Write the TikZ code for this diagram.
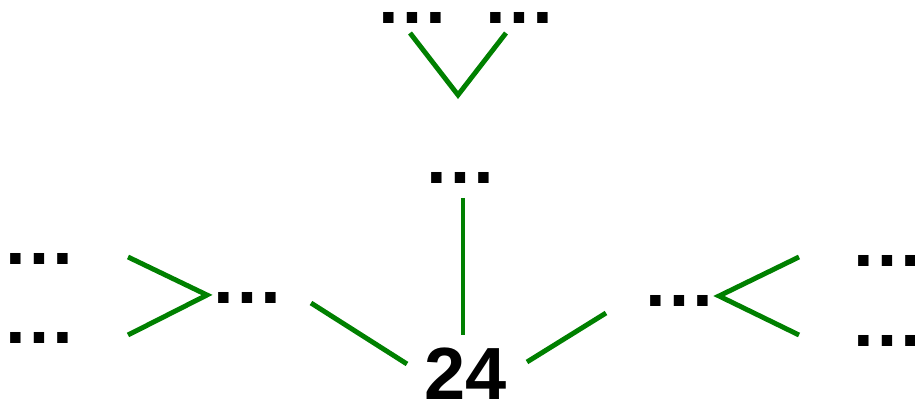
\documentclass[tikz,border=0pt]{standalone}
\usepackage{fontspec}
\setmainfont{Liberation Sans}

\begin{document}
\begin{tikzpicture}[
    x=0.025cm, y=0.025cm,
    every node/.style={font=\bfseries\fontsize{52.6}{60}\selectfont,
                       inner sep=0pt, anchor=base},
]

\definecolor{linkgreen}{HTML}{008000}

\tikzset{
  link/.style={draw=linkgreen, line width=3.5pt},
}

\useasboundingbox (0,0) rectangle (915,400);

% ---------------------------------------------------------------- nodes
\node (root) at (466,0)   {24};
\node (mid)  at (460,216) {…};
\node (tl)   at (412,376) {…};
\node (tr)   at (519,376) {…};
\node (lft)  at (247,96)  {…};
\node (lft1) at (39,135)  {…};
\node (lft2) at (39,56)   {…};
\node (rgt)  at (679,93)  {…};
\node (rgt1) at (887,133) {…};
\node (rgt2) at (887,53)  {…};

% ---------------------------------------------------------------- forks
\coordinate (jtop) at (458,305);
\coordinate (jlft) at (207,105);
\coordinate (jrgt) at (719,104);

% ---------------------------------------------------------------- links
\draw[link] ([shift={(-2,-9)}]tl.base) -- (jtop) -- ([shift={(-13,-9)}]tr.base);
\draw[link] ([shift={(3,-14)}]mid.base) -- ([shift={(-3,65)}]root.base);

\draw[link] ([shift={(89,8)}]lft1.base) -- (jlft) -- ([shift={(89,9)}]lft2.base);
\draw[link] ([shift={(64,1)}]lft.base) -- ([shift={(-59,36)}]root.base);

\draw[link] ([shift={(61,38)}]root.base) -- ([shift={(-73,-6)}]rgt.base);
\draw[link] ([shift={(-88,10)}]rgt1.base) -- (jrgt) -- ([shift={(-88,12)}]rgt2.base);

\end{tikzpicture}
\end{document}
